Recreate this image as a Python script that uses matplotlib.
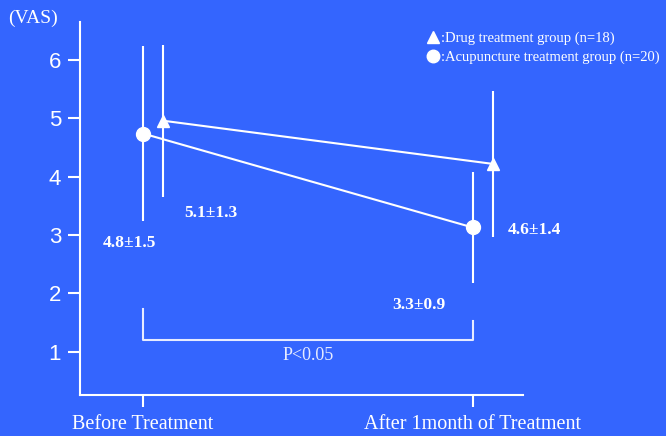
import matplotlib
matplotlib.use("Agg")
import matplotlib.pyplot as plt
from matplotlib.lines import Line2D

# data
groups = ["Before Treatment", "After 1month of Treatment"]
drug_mean = [4.96, 4.22]
drug_err = [1.3, 1.25]
acu_mean = [4.74, 3.13]
acu_err = [1.5, 0.95]
drug_labels = ["5.1\u00b11.3", "4.6\u00b11.4"]
acu_labels = ["4.8\u00b11.5", "3.3\u00b10.9"]
legend_labels = [":Drug treatment group (n=18)", ":Acupuncture treatment group (n=20)"]
yticks = [1, 2, 3, 4, 5, 6]

BG = "#3465fe"
FG = "white"
SERIF = ["Liberation Serif", "DejaVu Serif"]
SANS = ["Liberation Sans", "DejaVu Sans"]

fig = plt.figure(figsize=(6.66, 4.36), dpi=100, facecolor=BG)
ax = fig.add_axes([0.1201, 0.094, 0.665, 0.8555], facecolor=BG)

x = [0, 1]
off = 0.06
xd = [v + off for v in x]

ax.errorbar(xd, drug_mean, yerr=drug_err, color=FG, lw=1.5, elinewidth=1.5,
            capsize=0, marker="^", ms=9, clip_on=False, zorder=3)
ax.errorbar(x, acu_mean, yerr=acu_err, color=FG, lw=1.5, elinewidth=1.5,
            capsize=0, marker="o", ms=10, clip_on=False, zorder=3)

# value labels
lab_kw = dict(color=FG, fontsize=12.5, fontweight="bold", family=SERIF, ha="center", va="center")
ax.text(0.206, 3.38, drug_labels[0], **lab_kw)
ax.text(1.188, 3.08, drug_labels[1], **lab_kw)
ax.text(-0.042, 2.87, acu_labels[0], **lab_kw)
ax.text(0.836, 1.80, acu_labels[1], **lab_kw)

# significance bracket
br = "#e6ebff"
ax.plot([x[0], x[0], x[1], x[1]], [1.74, 1.2, 1.2, 1.53], color=br, lw=1.5)
ax.text(sum(x) / 2, 0.93, "P<0.05", color=br, fontsize=13, family=SERIF,
        ha="center", va="center")

ax.set_xlim(-0.191, 1.152)
ax.set_ylim(0.26, 6.65)
ax.set_yticks(yticks)
ax.set_xticks(x)
ax.set_xticklabels(groups, family=SERIF, fontsize=14.5)
ax.set_yticklabels([str(t) for t in yticks], family=SANS, fontsize=16)
ax.tick_params(axis="y", colors=FG, length=8.5, width=1.5, pad=5)
ax.tick_params(axis="x", colors=FG, length=8.5, width=1.5, pad=6)
for s in ["top", "right"]:
    ax.spines[s].set_visible(False)
for s in ["left", "bottom"]:
    ax.spines[s].set_color(FG)
    ax.spines[s].set_linewidth(1.5)

fig.text(0.012, 0.958, "(VAS)", color=FG, fontsize=14, family=SERIF, ha="left", va="center")

handles = [Line2D([], [], ls="none", marker="^", color=FG, ms=9),
           Line2D([], [], ls="none", marker="o", color=FG, ms=9)]
fig.legend(handles, legend_labels, loc="upper left", bbox_to_anchor=(0.643, 0.927),
           frameon=False, handlelength=0.6, handletextpad=0.25, labelspacing=0.35,
           borderpad=0, borderaxespad=0, prop={"family": SERIF, "size": 10.5},
           labelcolor=FG)

fig.savefig("out.png", dpi=100, facecolor=BG)
